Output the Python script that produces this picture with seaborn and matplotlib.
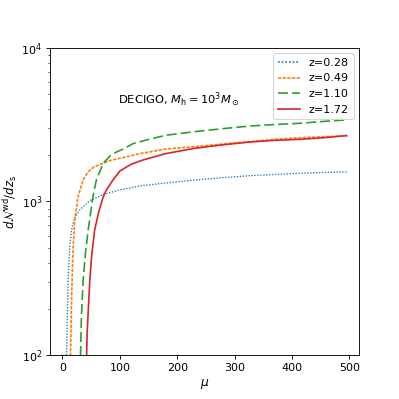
import matplotlib
matplotlib.use("Agg")
import matplotlib.pyplot as plt
import seaborn as sns
import pandas as pd
import numpy as np

labels = ["z=0.28", "z=0.49", "z=1.10", "z=1.72"]

mu_028 = [6.5, 7, 9.8, 12.7, 15.7, 18.5, 22, 30, 47.6, 71, 100, 135, 180, 231, 280, 327, 370, 414, 455, 497]
v_028 = [80, 100, 308, 508, 650, 721, 790, 881, 1012, 1110, 1190, 1262, 1320, 1380, 1430, 1473, 1500, 1528, 1545, 1560]

mu_049 = [13.5, 14, 16, 18.5, 21.5, 27, 36, 44.7, 55, 71, 83, 103, 135, 181, 231, 280, 327, 370, 414, 455, 497]
v_049 = [80, 100, 250, 508, 757, 1072, 1380, 1563, 1680, 1774, 1850, 1920, 2050, 2200, 2275, 2370, 2455, 2540, 2600, 2640, 2680]

mu_110 = [31, 31.4, 33, 36, 40, 44.7, 53, 59, 71, 83, 94, 103, 123, 143.6, 180, 231, 280, 327, 370, 414, 455, 497]
v_110 = [80, 100, 180, 308, 460, 650, 1072, 1380, 1774, 1980, 2100, 2170, 2380, 2500, 2700, 2850, 2980, 3100, 3170, 3230, 3320, 3400]

mu_172 = [41.7, 42, 43, 44.7, 47.6, 51, 56, 63, 71, 76, 88, 100, 120, 140, 180, 231, 280, 327, 370, 414, 455, 495]
v_172 = [80, 100, 140, 187, 308, 450, 650, 850, 1072, 1180, 1380, 1580, 1750, 1862, 2050, 2222, 2340, 2440, 2500, 2541, 2600, 2685]

xticks = [0, 100, 200, 300, 400, 500]

frames = []
for lab, m, v in zip(labels, [mu_028, mu_049, mu_110, mu_172], [v_028, v_049, v_110, v_172]):
    frames.append(pd.DataFrame({"mu": m, "val": v, "z": lab}))
df = pd.concat(frames, ignore_index=True)

plt.rcParams["font.family"] = ["DejaVu Sans"]
plt.rcParams["mathtext.fontset"] = "dejavusans"

fig, ax = plt.subplots(figsize=(4.9875, 4.9875), dpi=80)

colors = ["#1f77b4", "#ff7f0e", "#2ca02c", "#d62728"]
dashes = [(1, 1.2), (2, 0.8), (6, 2.4), ""]
sns.lineplot(data=df, x="mu", y="val", hue="z", style="z", palette=colors,
             dashes=dashes, ax=ax, linewidth=1.5, sort=False, estimator=None)
ax.lines[0].set_linewidth(1.2)

ax.set_yscale("log")
ax.set_ylim(1e2, 1e4)
ax.set_xlim(-22, 517)
ax.set_xticks(xticks)
ax.set_xlabel(r"$\mu$", fontsize=11)
ax.set_ylabel(r"$d\mathcal{N}^{\rm wd}/dz_{\rm s}$", fontsize=10.5, labelpad=2)
ax.tick_params(labelsize=10)

ax.text(0.22, 0.83, r"DECIGO, $M_{\rm h}=10^3M_\odot$", transform=ax.transAxes,
        fontsize=10.3, va="center", ha="left")

leg = ax.legend(loc="upper right", fontsize=10, title=None)
for h in leg.get_lines():
    h.set_linewidth(1.5)

fig.subplots_adjust(left=0.125, right=0.9, bottom=0.11, top=0.88)
fig.savefig("out.png", dpi=80)
